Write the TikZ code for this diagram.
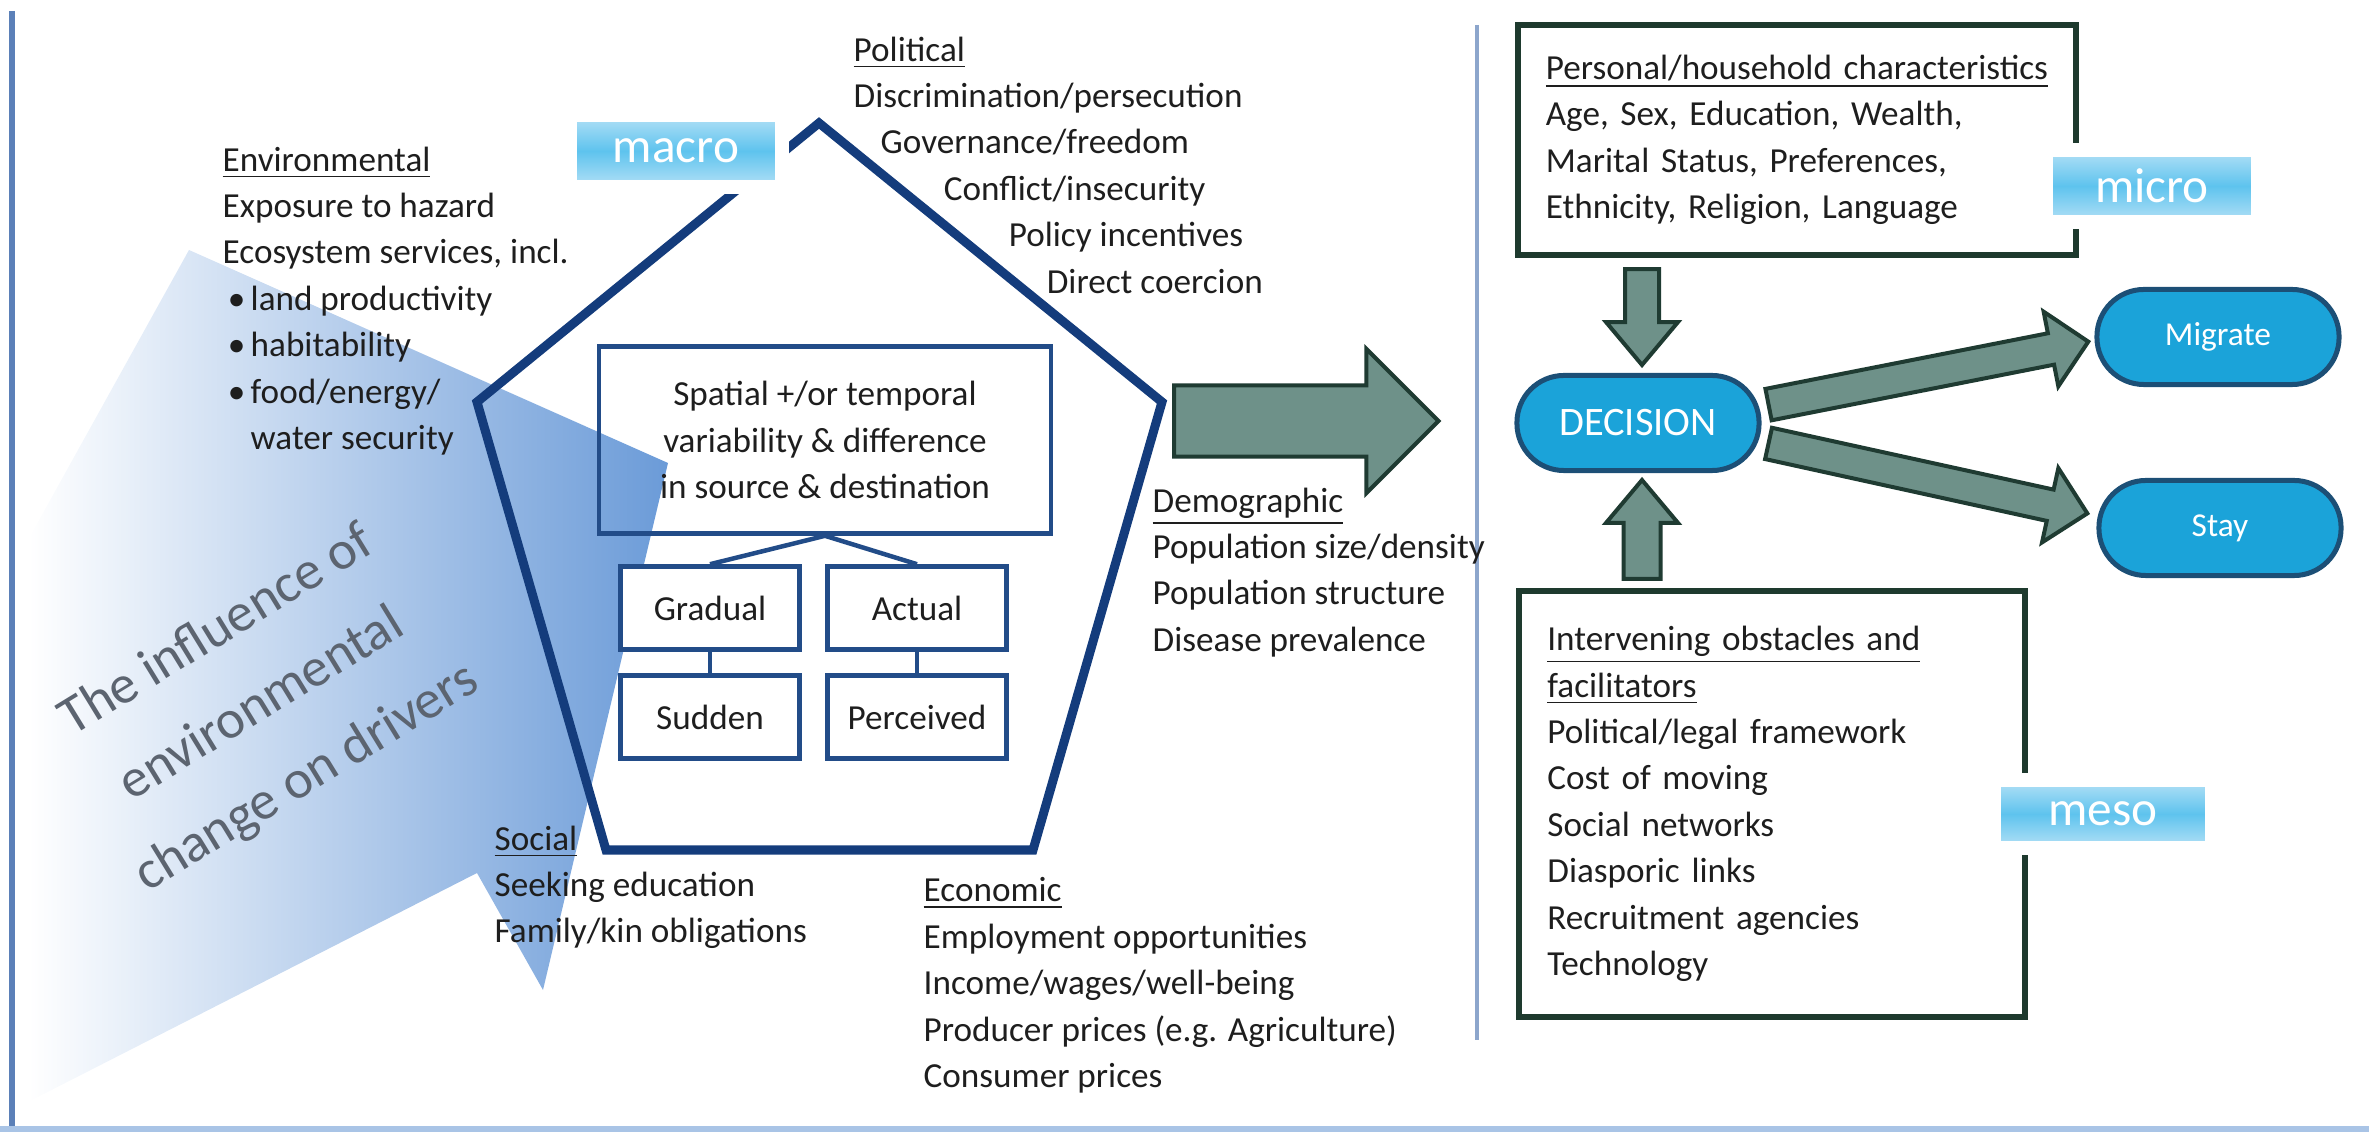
\documentclass[tikz,border=0pt]{standalone}
\usepackage{fontspec}
\setmainfont{Carlito}
\usetikzlibrary{arrows.meta, shapes.arrows, calc, positioning}
\definecolor{drNavy}{HTML}{143C7C}
\definecolor{drBoxBlue}{HTML}{224C88}
\definecolor{drShade}{HTML}{6B9BD8}
\definecolor{drSage}{HTML}{6E9189}
\definecolor{drSageDark}{HTML}{1F3B32}
\definecolor{drCyan}{HTML}{1BA3D9}
\definecolor{drCyanEdge}{HTML}{1C4F76}
\definecolor{drGreenEdge}{HTML}{1E3A2E}
\definecolor{drLevel}{HTML}{5EC3EE}
\definecolor{drLevelSoft}{HTML}{B4E1F6}
\definecolor{drText}{HTML}{1E1E1E}
\definecolor{drGreyText}{HTML}{5C6470}
\definecolor{drFrame}{HTML}{5B80B8}
\definecolor{drFramePale}{HTML}{A9C4E6}
\definecolor{drDivider}{HTML}{8DA6CC}
\tikzset{
  % shaded wedge behind the drivers
  wedge/.style     = {left color=white, right color=drShade},
  title/.style     = {font=\fontsize{15.5}{24.5}\selectfont, text=drGreyText,
                      align=center, inner sep=0pt},
  frameline/.style = {drFrame, line width=0.5mm},
  framebase/.style = {drFramePale, line width=0.55mm},
  divider/.style   = {drDivider, line width=0.4mm},
  pentagon/.style  = {drNavy, line width=0.9mm, line join=miter},
  varbox/.style    = {draw=drBoxBlue, line width=0.45mm, text=drText,
                      font=\fontsize{10}{13.2}\selectfont, align=center,
                      minimum width=17.9mm, minimum height=8.3mm, inner sep=0pt},
  treeline/.style  = {drBoxBlue, line width=0.45mm},
  list/.style      = {font=\fontsize{10}{13.2}\selectfont, text=drText,
                      align=left, inner sep=0pt, anchor=north west},
  factorbox/.style = {draw=drGreenEdge, line width=0.6mm, text=drText,
                      font=\fontsize{10}{13.2}\selectfont, align=left,
                      inner xsep=2.8mm, inner ysep=0pt},
  choice/.style    = {rectangle, rounded corners=4.7mm, draw=drCyanEdge,
                      fill=drCyan, line width=0.5mm, text=white,
                      font=\fontsize{9.5}{11}\selectfont,
                      minimum width=24.2mm, minimum height=9.5mm},
  fatarrow/.style  = {single arrow, draw=drSageDark, fill=drSage, line width=0.4mm,
                      inner xsep=0pt, single arrow head indent=0pt},
  level/.style     = {top color=drLevelSoft, bottom color=drLevelSoft,
                      middle color=drLevel, draw=white, line width=1.4mm,
                      text=white, font=\fontsize{14}{14}\selectfont,
                      minimum width=21.1mm, minimum height=7.2mm},
}
% block arrow from #3 to #4, named #2
\newcommand{\fatarrow}[4][]{%
  \path let \p1 = ($(#4)-(#3)$) in
    node[fatarrow, #1, anchor=tail, rotate={atan2(\y1,\x1)},
         minimum height={veclen(\x1,\y1)}] (#2) at (#3) {};}

\begin{document}
\begin{tikzpicture}[x=0.01cm, y=-0.01cm]
  \useasboundingbox (0,0) rectangle (2369,1134);
  % influence wedge
  \shade[wedge] (189,250) -- (668,463) -- (543,990) -- (477,873)
                -- (28,1102) -- (28,540) -- cycle;
  \node[title, rotate=31.5] (influence) at (262,705)
    {The influence of\\environmental\\change on drivers};
  % frame
  \draw[frameline] (12,11) -- (12,1129);
  \draw[framebase] (0,1129) -- (2369,1129);
  \draw[divider] (1477,25) -- (1477,1040);
  % pentagon of drivers
  \coordinate (pentTop) at (819,123);
  \coordinate (pentR)   at (1162,402);
  \coordinate (pentBR)  at (1033,850);
  \coordinate (pentBL)  at (606,850);
  \coordinate (pentL)   at (477,402);
  \draw[pentagon] (pentTop) -- (pentR) -- (pentBR) -- (pentBL) -- (pentL) -- cycle;
  % variability boxes
  \node[varbox, minimum width=45.2mm, minimum height=18.7mm] (spatial) at (825,440)
    {Spatial +/or temporal\\variability \& difference\\in source \& destination};
  \node[varbox, fill=white] (gradual)   at (710,608) {Gradual};
  \node[varbox, fill=white] (actual)    at (917,608) {Actual};
  \node[varbox, fill=white] (sudden)    at (710,717) {Sudden};
  \node[varbox, fill=white] (perceived) at (917,717) {Perceived};
  \draw[treeline] (spatial.south) -- (gradual.north);
  \draw[treeline] (spatial.south) -- (actual.north);
  \draw[treeline] (gradual.south) -- (sudden.north);
  \draw[treeline] (actual.south) -- (perceived.north);
  % driver lists
  \node[list] (env) at (222,146) {\underline{Environmental}\\
    Exposure to hazard\\
    Ecosystem services, incl.\\
    \makebox[2.8mm]{\textbullet}land productivity\\
    \makebox[2.8mm]{\textbullet}habitability\\
    \makebox[2.8mm]{\textbullet}food/energy/\\
    \hspace*{2.8mm}water security};
  \node[list] (pol) at (853,36) {\underline{Political}\\
    Discrimination/persecution\\
    \hspace*{2.7mm}Governance/freedom\\
    \hspace*{9mm}Conflict/insecurity\\
    \hspace*{15.5mm}Policy incentives\\
    \hspace*{19.3mm}Direct coercion};
  \node[list] (demo) at (1152,487) {\underline{Demographic}\\
    Population size/density\\
    Population structure\\
    Disease prevalence};
  \node[list] (soc) at (494,825) {\underline{Social}\\
    Seeking education\\
    Family/kin obligations};
  \node[list] (econ) at (923,877) {\underline{Economic}\\
    Employment opportunities\\
    Income/wages/well-being\\
    Producer prices (e.g. Agriculture)\\
    Consumer prices};
  % decision side
  \node[choice, font=\fontsize{11.5}{13}\selectfont] (dec) at (1638,423) {DECISION};
  \node[choice] (mig)  at (2218,337) {Migrate};
  \node[choice] (stay) at (2220,528) {Stay};
  \node[factorbox, text width=50.2mm, minimum height=23mm] (pers) at (1797,140)
    {\underline{Personal/household characteristics}\\
     Age, Sex, Education, Wealth,\\
     Marital Status, Preferences,\\
     Ethnicity, Religion, Language};
  \node[factorbox, text width=44.9mm, minimum height=42.6mm] (inter) at (1772,804)
    {\underline{Intervening obstacles and}\\
     \underline{facilitators}\\
     Political/legal framework\\
     Cost of moving\\
     Social networks\\
     Diasporic links\\
     Recruitment agencies\\
     Technology};
  % block arrows
  \coordinate (bigTail)  at ($(pentR)+(10,19)$);
  \coordinate (bigTip)   at ($(dec.west)+(-78,-2)$);
  \coordinate (downTail) at ($(dec.north |- pers.south)+(4,9)$);
  \coordinate (downTip)  at ($(dec.north)+(4,-10)$);
  \coordinate (upTail)   at ($(dec.south |- inter.north)+(4,-7)$);
  \coordinate (upTip)    at ($(dec.south)+(4,9)$);
  \coordinate (migTail)  at ($(dec.east)+(5,-18)$);
  \coordinate (migTip)   at ($(mig.west)+(-8,5)$);
  \coordinate (stayTail) at ($(dec.east)+(5,20)$);
  \coordinate (stayTip)  at ($(stay.west)+(-11,-15)$);
  \fatarrow[inner ysep=3.35mm, single arrow head extend=3.65mm]{bigArrow}{bigTail}{bigTip}
  \fatarrow[inner ysep=1.5mm, single arrow head extend=1.9mm,
            single arrow tip angle=80]{downArrow}{downTail}{downTip}
  \fatarrow[inner ysep=1.65mm, single arrow head extend=1.75mm,
            single arrow tip angle=80]{upArrow}{upTail}{upTip}
  \fatarrow[inner ysep=1.4mm, single arrow head extend=2.2mm]{migArrow}{migTail}{migTip}
  \fatarrow[inner ysep=1.4mm, single arrow head extend=2.2mm]{stayArrow}{stayTail}{stayTip}
  % level tags
  \node[level] (macro) at (676,151) {macro};
  \node[level] (micro) at (2152,186) {micro};
  \node[level, minimum width=21.7mm, minimum height=6.7mm] (meso) at (2103,814) {meso};
\end{tikzpicture}
\end{document}
